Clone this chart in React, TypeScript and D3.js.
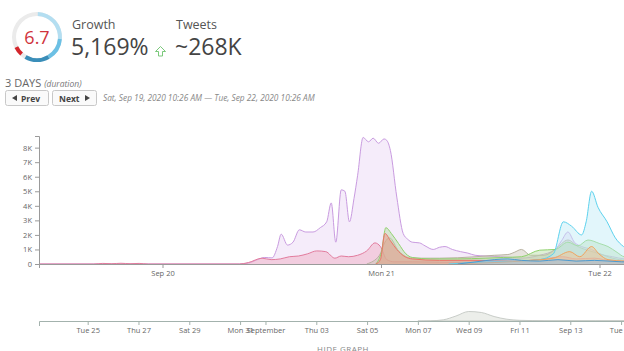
import React, { useRef, useEffect } from "react";
import * as d3 from "d3";

// start of the 3 day window, all series are [hours since start, tweets]
const START = new Date(2020, 8, 19, 10, 26);
const END = new Date(2020, 8, 22, 10, 26);

const purple = [[0,0],[22,0],[23,60],[24,300],[24.8,450],[25.6,420],[26.2,1200],[26.6,2050],[27.3,1300],[27.9,1500],[28.6,2350],[29.3,2200],[30.1,2200],[30.9,2500],[31.6,2900],[32.1,4200],[32.6,1500],[33.2,5100],[33.6,5000],[34.1,2900],[34.6,4500],[35.0,6100],[35.6,8700],[36.2,8400],[36.7,8650],[37.3,8300],[37.9,8600],[38.2,8500],[38.6,7800],[39.3,4600],[40.0,2100],[40.5,1700],[41.0,1500],[41.8,1450],[42.4,1250],[43.3,1000],[44.0,1150],[44.6,1200],[45.4,1000],[46.3,850],[47.1,750],[47.9,600],[49,550],[50.7,500],[52,450],[52.9,400],[55,600],[56.7,1000],[57.4,1600],[58.1,2200],[58.8,1500],[59.6,1200],[60.7,1000],[61.6,700],[63,500],[64.3,350],[68,250],[72,200]];
const pink = [[0,0],[6,0],[7,40],[8,20],[9,50],[10,20],[11,40],[12,0],[22,0],[23,100],[24.5,400],[25.5,300],[26.5,350],[27.5,500],[28.5,550],[29.5,700],[30.5,900],[31.5,850],[32.5,400],[33.2,550],[34,500],[35,600],[36,900],[36.9,1450],[37.5,1200],[38.2,300],[39,150],[41,150],[44,120],[48,100],[52,80],[56,150],[58,300],[60,150],[64,100],[72,80]];
const gray = [[36,0],[37.4,600],[38,1500],[38.5,1800],[39.5,900],[41,400],[44,400],[48,500],[50,600],[51.5,650],[52.2,800],[53,1000],[54,600],[55.5,600],[56.7,1000],[58.1,1650],[59.2,1200],[60.5,900],[61.6,700],[63,400],[64.5,250],[72,150]];
const green = [[37,0],[37.6,800],[38.1,2500],[38.7,2100],[39.5,1400],[40.3,700],[41,450],[43,350],[46,350],[49,400],[51,450],[53,500],[55,950],[56.7,1000],[58.1,1500],[59.2,1250],[60.3,1650],[61.6,1400],[62.5,1200],[63.5,800],[64.3,500],[72,300]];
const red = [[37,0],[37.5,300],[38,2100],[38.6,1600],[39.3,1000],[40.2,500],[41,350],[44,250],[48,250],[52,200],[55,300],[57.5,500],[59,350],[61,400],[63,200],[72,150]];
const cyan = [[45,0],[47,80],[50,150],[53,200],[55,300],[56.5,700],[57.6,2900],[58.5,2600],[59.6,2000],[60.1,2900],[60.7,5000],[61.4,3900],[62.4,2900],[63.3,1800],[64.2,1200],[65.5,800],[72,500]];
const orange = [[46,0],[50,100],[54,250],[56.5,400],[58.3,850],[59.4,500],[60.7,1200],[61.5,700],[62.5,300],[64.3,200],[72,100]];
const blue = [[46,0],[48,150],[50,300],[51.5,350],[53,250],[55,200],[57,300],[59,200],[61,250],[64,150],[72,100]];

const yTicks = [0, 1000, 2000, 3000, 4000, 5000, 6000, 7000, 8000];

// overview strip: day of September, relative volume
const overviewDays = [[7,0],[7.5,0.02],[8,0.12],[8.5,0.5],[9,0.95],[9.5,0.85],[10,0.45],[10.5,0.18],[11,0.07],[11.5,0.04],[12,0.03],[14,0.03],[16,0.02]];

const layers = [
  { data: purple, stroke: "#c99be0", fill: "#e8d4f5" },
  { data: pink, stroke: "#e27b9d", fill: "#f0a9bf" },
  { data: gray, stroke: "#b8b2a0", fill: "#c9c4b4" },
  { data: green, stroke: "#8fd26c", fill: "#b6dca2" },
  { data: red, stroke: "#ec7468", fill: "#f08c80" },
  { data: cyan, stroke: "#5cd2ee", fill: "#bfeaf7" },
  { data: orange, stroke: "#f2a25c", fill: "#f5c08e" },
  { data: blue, stroke: "#4a9bd2", fill: "#8fc0e6" },
];

const hoursToDate = (h: number) => new Date(START.getTime() + h * 3600e3);

const FONT = "'Open Sans', 'DejaVu Sans', sans-serif";

const App = () => {
  const xAxisRef = useRef<SVGGElement>(null);
  const yAxisRef = useRef<SVGGElement>(null);
  const miniAxisRef = useRef<SVGGElement>(null);

  const x = d3.scaleTime().domain([START, END]).range([39, 39 + 72 * 9.104]);
  const y = d3.scaleLinear().domain([0, 8800]).range([264, 136]);

  const miniStart = new Date(2020, 7, 23, 2, 0);
  const miniEnd = new Date(2020, 8, 22, 10, 26);
  const mx = d3.scaleTime().domain([miniStart, miniEnd]).range([39, 39 + 25.4 * ((+miniEnd - +miniStart) / 864e5)]);
  const my = d3.scaleLinear().domain([0, 1]).range([321, 311]);

  const area = d3.area<number[]>()
    .x((d) => x(hoursToDate(d[0])))
    .y0(y(0))
    .y1((d) => y(d[1]))
    .curve(d3.curveMonotoneX);
  const line = d3.line<number[]>()
    .x((d) => x(hoursToDate(d[0])))
    .y((d) => y(d[1]))
    .curve(d3.curveMonotoneX);

  const miniArea = d3.area<number[]>()
    .x((d) => mx(new Date(2020, 8, 0, 0).getTime() + d[0] * 864e5))
    .y0(my(0))
    .y1((d) => my(d[1]))
    .curve(d3.curveMonotoneX);

  useEffect(() => {
    const xa = d3.select(xAxisRef.current);
    xa.call(d3.axisBottom(x).ticks(d3.timeDay.every(1)).tickSize(4).tickSizeOuter(4) as any);
    const ya = d3.select(yAxisRef.current);
    ya.call(d3.axisLeft(y).tickValues(yTicks).tickSize(4).tickFormat((d: any) => (d === 0 ? "0" : d / 1000 + "K")) as any);
    const ma = d3.select(miniAxisRef.current);
    ma.call(d3.axisBottom(mx).ticks(d3.timeDay.every(2)).tickSize(4).tickSizeOuter(5) as any);

    [xa, ya, ma].forEach((g) => {
      g.selectAll("path.domain").attr("stroke", "#9a9a9a");
      g.selectAll(".tick line").attr("stroke", "#9a9a9a");
      g.selectAll("text").attr("fill", "#666").attr("font-family", FONT).attr("font-size", 7.5);
    });
    ma.selectAll("path.domain").attr("stroke", "#a3b2ad");
    ma.selectAll(".tick line").attr("stroke", "#a3b2ad");
  }, []);

  const arc = d3.arc();
  const seg = (a0: number, a1: number) =>
    arc({ innerRadius: 21, outerRadius: 25, startAngle: (a0 * Math.PI) / 180, endAngle: (a1 * Math.PI) / 180 }) as string;

  return (
    <div>
      <style>{`body{margin:0}`}</style>
      <svg width={624} height={351} style={{ display: "block" }} fontFamily={FONT}>
        <rect width={624} height={351} fill="#fff" />

        {/* score ring */}
        <g transform="translate(37,37)">
          <path d={seg(0, 360)} fill="#ebebeb" />
          <path d={seg(2, 95)} fill="#b3def1" />
          <path d={seg(95, 150)} fill="#6cc0e4" />
          <path d={seg(150, 210)} fill="#3a8eb9" />
          <path d={seg(222, 244)} fill="#d4262c" />
          <text y={7} textAnchor="middle" fontSize={18} fill="#d0343c">6.7</text>
        </g>

        <text x={72} y={29} fontSize={12.5} fill="#555">Growth</text>
        <text x={71} y={55} fontSize={23} fill="#444">5,169%</text>
        <path d="M160.5,46.5 L165.5,51.5 L162.5,51.5 L162.5,56 L158.5,56 L158.5,51.5 L155.5,51.5 Z" fill="none" stroke="#6cc26c" strokeWidth={0.9} />
        <text x={176} y={29} fontSize={12.5} fill="#555">Tweets</text>
        <text x={175} y={55} fontSize={23} fill="#444">~268K</text>

        <text x={5} y={87} fontSize={11} fill="#666">3 DAYS <tspan fontSize={8.5} fontStyle="italic" fill="#777">(duration)</tspan></text>

        <rect x={5.5} y={90.5} width={43} height={15} rx={2} fill="#fafafa" stroke="#c8c8c8" />
        <path d="M12,98 L17,95 L17,101 Z" fill="#444" />
        <text x={21} y={101.5} fontSize={8.5} fontWeight="bold" fill="#444">Prev</text>
        <rect x={52.5} y={90.5} width={44} height={15} rx={2} fill="#fafafa" stroke="#c8c8c8" />
        <text x={59} y={101.5} fontSize={8.5} fontWeight="bold" fill="#444">Next</text>
        <path d="M85,95 L90,98 L85,101 Z" fill="#444" />
        <text x={103} y={101} fontSize={8.3} fontStyle="italic" fill="#888">Sat, Sep 19, 2020 10:26 AM — Tue, Sep 22, 2020 10:26 AM</text>

        {/* main chart */}
        <g>
          {layers.map((l, i) => (
            <g key={i}>
              <path d={area(l.data) as string} fill={l.fill} fillOpacity={0.45} />
              <path d={line(l.data) as string} fill="none" stroke={l.stroke} strokeWidth={1} />
            </g>
          ))}
        </g>
        <g ref={xAxisRef} transform="translate(0,264)" />
        <g ref={yAxisRef} transform="translate(39,0)" />

        {/* overview */}
        <path d={miniArea(overviewDays) as string} fill="#eceeea" stroke="#bcc2bc" strokeWidth={0.8} />
        <g ref={miniAxisRef} transform="translate(0,321)" />

        <text x={343} y={351.5} textAnchor="middle" fontSize={8} letterSpacing={0.5} fill="#888">HIDE GRAPH</text>
      </svg>
    </div>
  );
};

export default App;
